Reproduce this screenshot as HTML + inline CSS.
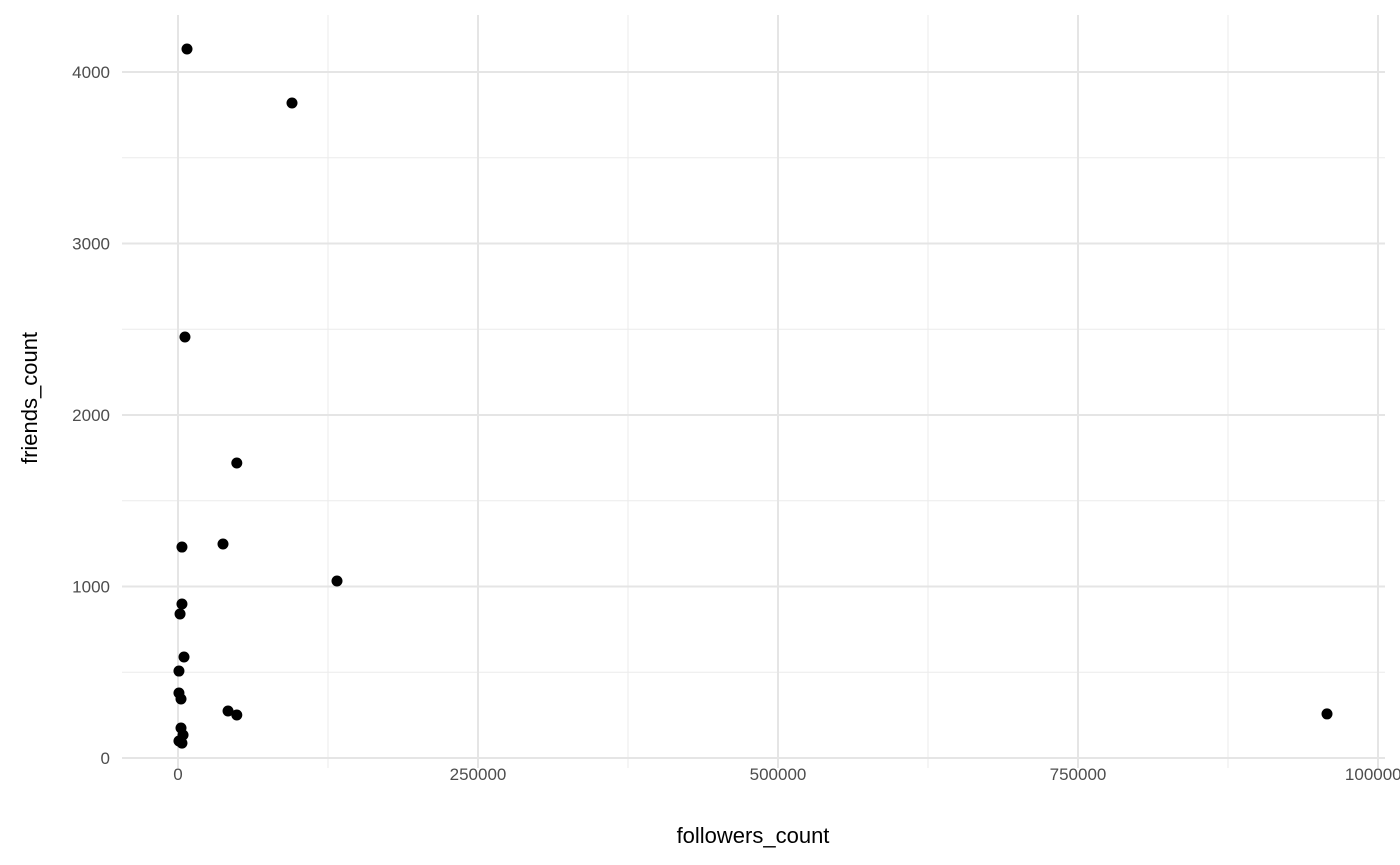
<!DOCTYPE html>
<html><head><meta charset="utf-8"><style>
body{margin:0;background:#fff;font-family:"Liberation Sans",Arial,sans-serif}
svg{display:block}
</style></head><body>
<svg id="chart" width="1400" height="865"></svg>
<script>
const xTicks=[0,250000,500000,750000,1000000];
const yTicks=[0,1000,2000,3000,4000];
const followers=[7500,95000,5800,49000,3300,37500,132500,3300,1700,5000,800,800,2500,41700,49000,2500,4200,800,3300,957500];
const friends=[4134,3819,2455,1720,1230,1248,1032,898,840,589,507,379,344,274,251,175,134,99,87,257];
const NS="http://www.w3.org/2000/svg";
const svg=document.getElementById('chart');
const X=v=>178+v*300/250000;
const Y=v=>758-v*0.1715;
const L=122,R=1385,T=15,B=768;
function el(t,a){const e=document.createElementNS(NS,t);for(const k in a)e.setAttribute(k,a[k]);svg.appendChild(e);return e;}
for(let i=0;i<xTicks.length-1;i++){const g=el('line',{x1:X((xTicks[i]+xTicks[i+1])/2),x2:X((xTicks[i]+xTicks[i+1])/2),y1:T,y2:B,stroke:'#ebebeb','stroke-width':1});

}
for(let i=0;i<yTicks.length;i++){const v=yTicks[i]+500;const g=el('line',{x1:L,x2:R,y1:Y(v),y2:Y(v),stroke:'#ebebeb','stroke-width':1});

}
xTicks.forEach(v=>{const g=el('line',{x1:X(v),x2:X(v),y1:T,y2:B,stroke:'#e5e5e5','stroke-width':2});


const t=el('text',{x:X(v),y:780,'text-anchor':'middle','font-size':17,fill:'#4d4d4d'});t.textContent=v;

});
yTicks.forEach(v=>{const g=el('line',{x1:L,x2:R,y1:Y(v),y2:Y(v),stroke:'#e5e5e5','stroke-width':2});


const t=el('text',{x:110,y:Y(v)+6,'text-anchor':'end','font-size':17,fill:'#4d4d4d'});t.textContent=v;

});
followers.forEach((f,i)=>{const c=el('circle',{cx:X(f),cy:Y(friends[i]),r:5.5,fill:'#000'});

});
const xt=el('text',{x:753,y:843,'text-anchor':'middle','font-size':22,fill:'#000'});xt.textContent='followers_count';


const yt=el('text',{x:37,y:398,'text-anchor':'middle','font-size':22,fill:'#000',transform:'rotate(-90 37 398)'});yt.textContent='friends_count';


</script>
</body></html>
